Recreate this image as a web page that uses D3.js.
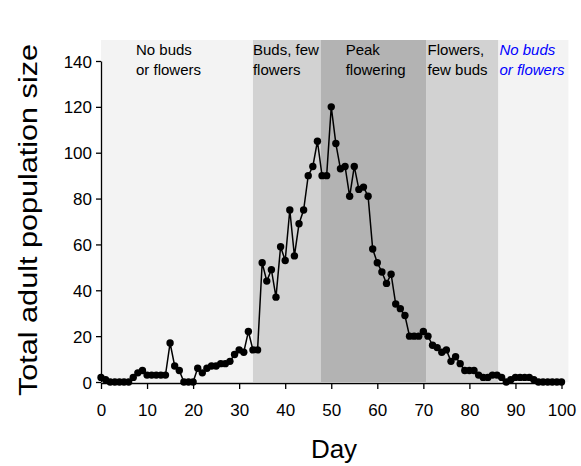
<!DOCTYPE html>
<html>
<head>
<meta charset="utf-8">
<script src="https://cdn.jsdelivr.net/npm/d3@7"></script>
<style>
  html, body { margin: 0; padding: 0; background: #fff; }
  svg { display: block; font-family: "Liberation Sans", Arial, sans-serif; }
</style>
</head>
<body>
<svg id="chart" width="581" height="466"></svg>
<script>
// ---- data ----
const days = d3.range(0, 101);
const adults = [
  2, 1, 0, 0, 0, 0, 0, 2, 4, 5,
  3, 3, 3, 3, 3, 17, 7, 5, 0, 0,
  0, 6, 4, 6, 7, 7, 8, 8, 9, 12,
  14, 13, 22, 14, 14, 52, 44, 49, 37, 59,
  53, 75, 55, 69, 75, 90, 94, 105, 90, 90,
  120, 104, 93, 94, 81, 94, 84, 85, 81, 58,
  52, 48, 43, 47, 34, 32, 29, 20, 20, 20,
  22, 20, 16, 15, 13, 14, 9, 11, 8, 5,
  5, 5, 3, 2, 2, 3, 3, 2, 0, 1,
  2, 2, 2, 2, 1, 0, 0, 0, 0, 0,
  0
];
const xTicks = [0, 10, 20, 30, 40, 50, 60, 70, 80, 90, 100];
const yTicks = [0, 20, 40, 60, 80, 100, 120, 140];
const phaseStart = [0, 33, 47.7, 70.7, 86.3];
const phaseEnd   = [33, 47.7, 70.7, 86.3, 101.5];
const phaseLine1 = ["No buds", "Buds, few", "Peak", "Flowers,", "No buds"];
const phaseLine2 = ["or flowers", "flowers", "flowering", "few buds", "or flowers"];
const xTitle = "Day";
const yTitle = "Total adult population size";

// ---- layout / style ----
const phaseFill = ["#f3f3f3", "#d2d2d2", "#b3b3b3", "#d2d2d2", "#f3f3f3"];
const labelShift = [35, 0, 25, 1, 1];
const labelColor = ["#000", "#000", "#000", "#000", "#0000ff"];
const labelStyle = ["normal", "normal", "normal", "normal", "italic"];

const svg = d3.select("#chart");
const x = d3.scaleLinear().domain([0, 100]).range([101, 561.5]);
const y = d3.scaleLinear().domain([0, 140]).range([382, 61]);
const bgTop = 40;

// phase bands
svg.append("g").selectAll("rect")
  .data(phaseStart)
  .join("rect")
  .attr("x", (d) => x(d))
  .attr("y", bgTop)
  .attr("width", (d, i) => x(phaseEnd[i]) - x(d))
  .attr("height", y(0) - bgTop)
  .attr("fill", (d, i) => phaseFill[i]);

// phase labels
const lab = svg.append("g").selectAll("text")
  .data(phaseStart)
  .join("text")
  .attr("x", (d, i) => x(d) + labelShift[i])
  .attr("y", 55)
  .attr("font-size", 15)
  .attr("fill", (d, i) => labelColor[i])
  .attr("font-style", (d, i) => labelStyle[i]);
lab.append("tspan").text((d, i) => phaseLine1[i]);
lab.append("tspan")
  .attr("x", (d, i) => x(d) + labelShift[i])
  .attr("dy", 20)
  .text((d, i) => phaseLine2[i]);

// axes
const xAxis = svg.append("g")
  .attr("transform", `translate(0,${y(0) + 1})`)
  .call(d3.axisBottom(x).tickValues(xTicks).tickSize(6).tickPadding(11).tickSizeOuter(0));
const yAxis = svg.append("g")
  .attr("transform", `translate(${x(0)},0)`)
  .call(d3.axisLeft(y).tickValues(yTicks).tickSize(5).tickPadding(4).tickSizeOuter(0));
[xAxis, yAxis].forEach((g) => {
  g.select(".domain").attr("stroke", "#000").attr("stroke-width", 1.3);
  g.selectAll(".tick line").attr("stroke", "#000").attr("stroke-width", 1.3);
  g.selectAll(".tick text")
    .attr("fill", "#000")
    .attr("font-size", 17)
    .attr("font-family", "'Liberation Sans', Arial, sans-serif");
});
xAxis.selectAll(".tick text").attr("dy", "0.95em");
yAxis.selectAll(".tick text").attr("dy", "0.36em");

// line + markers
const pts = days.map((d, i) => [d, adults[i]]);
svg.append("path")
  .datum(pts)
  .attr("fill", "none")
  .attr("stroke", "#000")
  .attr("stroke-width", 1.5)
  .attr("d", d3.line().x((d) => x(d[0])).y((d) => y(d[1])));
svg.append("g").selectAll("circle")
  .data(pts)
  .join("circle")
  .attr("cx", (d) => x(d[0]))
  .attr("cy", (d) => y(d[1]))
  .attr("r", 3.7)
  .attr("fill", "#000");

// titles
svg.append("text")
  .attr("x", 334)
  .attr("y", 458)
  .attr("text-anchor", "middle")
  .attr("font-size", 26)
  .attr("fill", "#000")
  .text(xTitle);
svg.append("text")
  .attr("transform", `translate(37,220) rotate(-90)`)
  .attr("text-anchor", "middle")
  .attr("font-size", 25)
  .attr("textLength", 352)
  .attr("lengthAdjust", "spacingAndGlyphs")
  .attr("fill", "#000")
  .text(yTitle);
</script>
</body>
</html>
